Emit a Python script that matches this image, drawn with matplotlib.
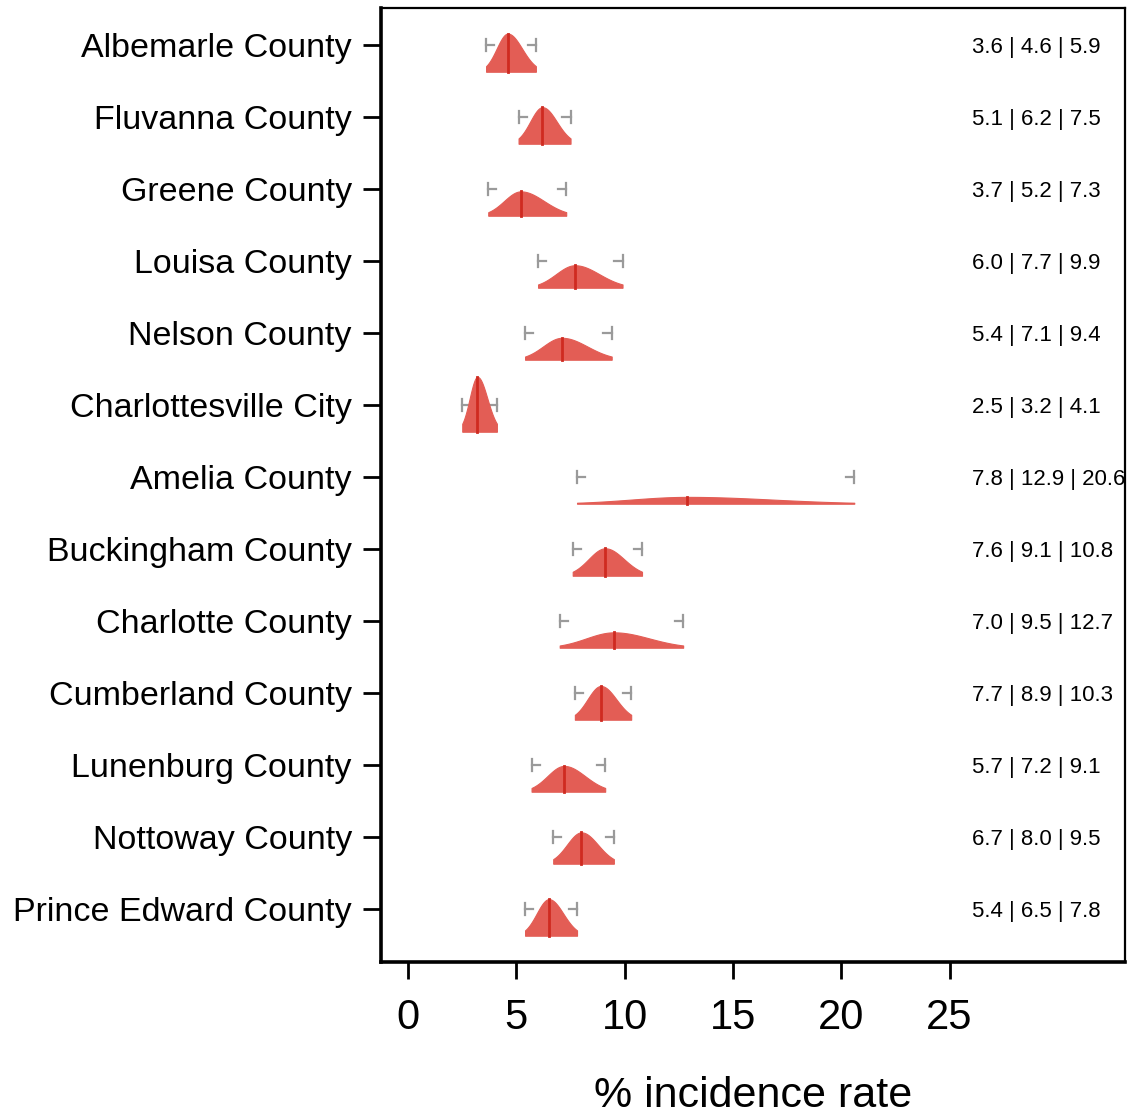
import numpy as np
import matplotlib.pyplot as plt

plt.rcParams['font.family'] = ['Liberation Sans', 'DejaVu Sans']

counties = ['Albemarle County', 'Fluvanna County', 'Greene County', 'Louisa County',
            'Nelson County', 'Charlottesville City', 'Amelia County', 'Buckingham County',
            'Charlotte County', 'Cumberland County', 'Lunenburg County', 'Nottoway County',
            'Prince Edward County']
low = [3.6, 5.1, 3.7, 6.0, 5.4, 2.5, 7.8, 7.6, 7.0, 7.7, 5.7, 6.7, 5.4]
med = [4.6, 6.2, 5.2, 7.7, 7.1, 3.2, 12.9, 9.1, 9.5, 8.9, 7.2, 8.0, 6.5]
high = [5.9, 7.5, 7.3, 9.9, 9.4, 4.1, 20.6, 10.8, 12.7, 10.3, 9.1, 9.5, 7.8]

fill_col = '#e35d55'
med_col = '#cf2a20'
cap_col = '#9a9a9a'

fig = plt.figure(figsize=(11.32, 11.16), dpi=100)
ax = fig.add_axes([0.3366, 0.138, 0.9938 - 0.3366, 0.9928 - 0.138])

scale = 0.78      # density -> row height
base_off = 0.375  # violin baseline below the row
for i, (lo, m, hi) in enumerate(zip(low, med, high)):
    s1 = (m - lo) / 1.96
    s2 = (hi - m) / 1.96
    xs = np.linspace(lo, hi, 200)
    sig = np.where(xs < m, s1, s2)
    dens = 2 / (np.sqrt(2 * np.pi) * (s1 + s2)) * np.exp(-0.5 * ((xs - m) / sig) ** 2)
    base = i + base_off
    # interval caps
    cap_h = 0.085
    stub = 0.38
    ax.plot([lo, lo], [i - cap_h, i + cap_h], color=cap_col, lw=1.6, zorder=1)
    ax.plot([lo, lo + stub], [i, i], color=cap_col, lw=1.6, zorder=1)
    ax.plot([hi, hi], [i - cap_h, i + cap_h], color=cap_col, lw=1.6, zorder=1)
    ax.plot([hi - stub, hi], [i, i], color=cap_col, lw=1.6, zorder=1)
    ax.fill_between(xs, base, base - scale * dens, color=fill_col, lw=0.8,
                    edgecolor=fill_col, zorder=2)
    peak = scale * 2 / (np.sqrt(2 * np.pi) * (s1 + s2))
    ax.plot([m, m], [base, base - peak], color=med_col, lw=2.0, zorder=3)
    ax.text(26.05, i, f'{lo:.1f} | {m:.1f} | {hi:.1f}', fontsize=16,
            va='center_baseline', ha='left', zorder=4)

ax.set_xlim(-1.25, 33.1)
ax.set_ylim(12.74, -0.51)
ax.set_yticks(range(len(counties)))
ax.set_yticklabels(counties, fontsize=24.5)
ax.set_xticks([0, 5, 10, 15, 20, 25])
ax.set_xticklabels(['0', '5', '10', '15', '20', '25'], fontsize=30)
ax.tick_params(axis='y', length=13, width=2, pad=8)
ax.tick_params(axis='x', length=12, width=2, pad=14)
ax.set_xlabel('% incidence rate', fontsize=31, labelpad=27)
for side in ['top', 'right']:
    ax.spines[side].set_linewidth(1.6)
for side in ['left', 'bottom']:
    ax.spines[side].set_linewidth(2.6)

fig.savefig('out.png', dpi=100)
